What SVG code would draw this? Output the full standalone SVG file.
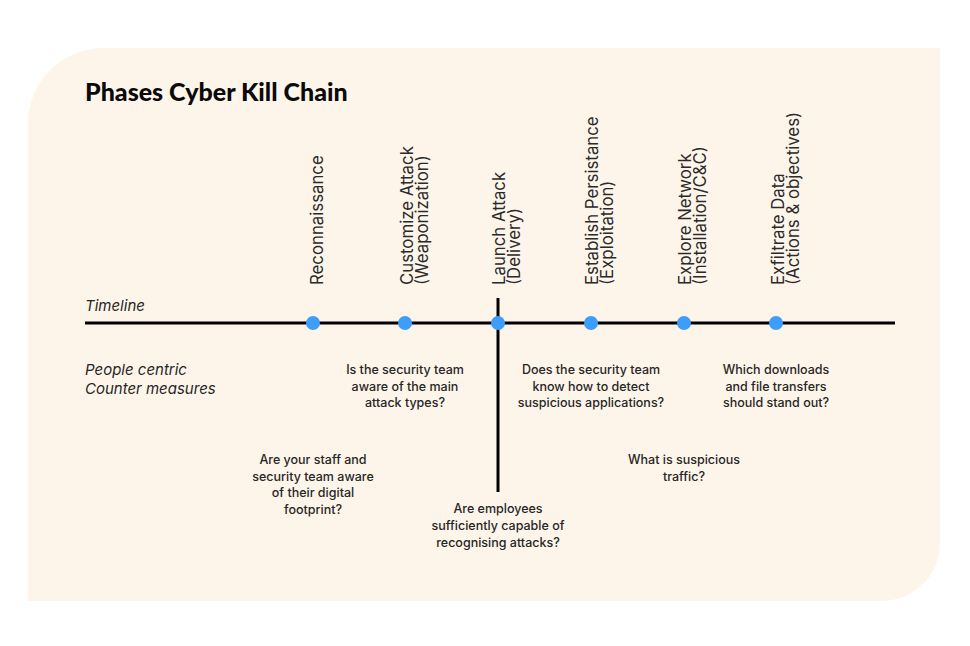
<svg xmlns="http://www.w3.org/2000/svg" width="970" height="646" viewBox="0 0 970 646">
<style>
.phase{font-family:"Inter","Open Sans",sans-serif;font-size:16.8px;fill:#2a2a2a;}
.q{font-family:"Inter","Open Sans",sans-serif;font-size:12.5px;font-weight:500;fill:#262626;text-anchor:middle;}
.it{font-family:"Inter","Open Sans",sans-serif;font-size:15px;font-style:italic;fill:#262626;}
.title{font-family:"Lato","Noto Sans",sans-serif;font-size:25px;font-weight:900;fill:#0a0a0a;}
.dot{fill:#3D9EFA;}
</style>
<rect width="970" height="646" fill="#ffffff"/>
<path d="M103,48 H940 V543 A58,58 0 0 1 882,601 H28 V123 A75,75 0 0 1 103,48 Z" fill="#FEF5EA"/>
<text class="title" x="85" y="101">Phases Cyber Kill Chain</text>
<text class="it" x="85" y="311">Timeline</text>
<text class="it" x="85" y="375">People centric</text>
<text class="it" x="85" y="394">Counter measures</text>
<g id="connectors">
<line x1="85" y1="323" x2="895" y2="323" stroke="#000" stroke-width="3"/>
<line x1="498" y1="298" x2="498" y2="492" stroke="#000" stroke-width="3"/>
</g>
<g id="recon">
<circle class="dot" cx="313" cy="323" r="7"/>
<text class="phase" transform="translate(323,285) rotate(-90)">Reconnaissance</text>
<text class="q" x="313" y="464">Are your staff and</text><text class="q" x="313" y="481">security team aware</text><text class="q" x="313" y="497">of their digital</text><text class="q" x="313" y="514">footprint?</text>
</g>
<g id="weapon">
<circle class="dot" cx="405" cy="323" r="7"/>
<text class="phase" transform="translate(413,285) rotate(-90)">Customize Attack</text>
<text class="phase" transform="translate(428,285) rotate(-90)">(Weaponization)</text>
<text class="q" x="405" y="374">Is the security team</text><text class="q" x="405" y="391">aware of the main</text><text class="q" x="405" y="407">attack types?</text>
</g>
<g id="delivery">
<circle class="dot" cx="498" cy="323" r="7"/>
<text class="phase" transform="translate(505,285) rotate(-90)">Launch Attack</text>
<text class="phase" transform="translate(520,285) rotate(-90)">(Delivery)</text>
<text class="q" x="498" y="513">Are employees</text><text class="q" x="498" y="530">sufficiently capable of</text><text class="q" x="498" y="547">recognising attacks?</text>
</g>
<g id="exploit">
<circle class="dot" cx="591" cy="323" r="7"/>
<text class="phase" transform="translate(598,285) rotate(-90)">Establish Persistance</text>
<text class="phase" transform="translate(613,285) rotate(-90)">(Exploitation)</text>
<text class="q" x="591" y="374">Does the security team</text><text class="q" x="591" y="391">know how to detect</text><text class="q" x="591" y="407">suspicious applications?</text>
</g>
<g id="install">
<circle class="dot" cx="684" cy="323" r="7"/>
<text class="phase" transform="translate(691,285) rotate(-90)">Explore Network</text>
<text class="phase" transform="translate(706,285) rotate(-90)">(Installation/C&amp;C)</text>
<text class="q" x="684" y="464">What is suspicious</text><text class="q" x="684" y="481">traffic?</text>
</g>
<g id="actions">
<circle class="dot" cx="776" cy="323" r="7"/>
<text class="phase" transform="translate(784,285) rotate(-90)">Exfiltrate Data</text>
<text class="phase" transform="translate(799,285) rotate(-90)">(Actions &amp; objectives)</text>
<text class="q" x="776" y="374">Which downloads</text><text class="q" x="776" y="391">and file transfers</text><text class="q" x="776" y="407">should stand out?</text>
</g>
</svg>
